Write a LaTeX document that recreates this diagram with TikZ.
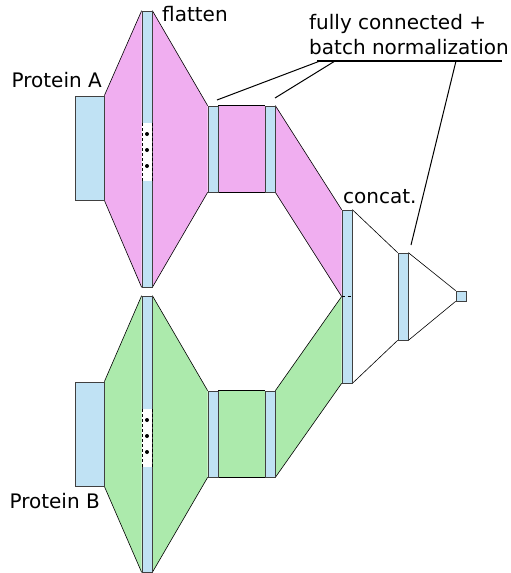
\documentclass[tikz,border=0pt]{standalone}
\usepackage{fontspec}
\setmainfont{DejaVu Sans}
\definecolor{pinkf}{RGB}{240,174,240}
\definecolor{greenf}{RGB}{172,234,172}
\definecolor{bluef}{RGB}{192,226,244}
\tikzset{
  bar/.style={draw=black!75, fill=bluef, line width=0.7pt, inner sep=0pt, minimum width=10pt},
  inbox/.style={draw=black!75, fill=bluef, line width=0.7pt, inner sep=0pt, minimum width=29pt, minimum height=104pt},
  edge/.style={draw=black, line width=0.6pt},
  lbl/.style={inner sep=0pt, font=\fontsize{20}{24}\selectfont},
  leader/.style={draw=black, line width=1pt}
}
\begin{document}
\begin{tikzpicture}[x=1pt,y=-1pt]
\useasboundingbox (0,0) rectangle (511,573);
% nodes
\node[inbox] (boxA) at (89.5,148) {};
\node[inbox] (boxB) at (89.5,434) {};
\node[bar, minimum height=276pt] (flatA) at (147,149) {};
\node[bar, minimum height=276pt] (flatB) at (147,434) {};
\node[bar, minimum height=86pt] (fcA1) at (213,149) {};
\node[bar, minimum height=86pt] (fcA2) at (270,149) {};
\node[bar, minimum height=86pt] (fcB1) at (213,434) {};
\node[bar, minimum height=86pt] (fcB2) at (270,434) {};
\node[bar, minimum height=173pt] (cat) at (347,296.5) {};
\node[bar, minimum height=87pt] (dense) at (403,296.5) {};
\node[bar, minimum height=10pt] (out) at (461,296) {};
% fills
\fill[pinkf] (boxA.north east) -- (flatA.north west) -- (flatA.south west) -- (boxA.south east) -- cycle;
\fill[pinkf] (flatA.north east) -- (fcA1.north west) -- (fcA1.south west) -- (flatA.south east) -- cycle;
\fill[pinkf] (fcA1.north east) rectangle (fcA2.south west);
\fill[pinkf] (fcA2.north east) -- (cat.north west) -- (cat.west) -- (fcA2.south east) -- cycle;
\fill[greenf] (boxB.north east) -- (flatB.north west) -- (flatB.south west) -- (boxB.south east) -- cycle;
\fill[greenf] (flatB.north east) -- (fcB1.north west) -- (fcB1.south west) -- (flatB.south east) -- cycle;
\fill[greenf] (fcB1.north east) rectangle (fcB2.south west);
\fill[greenf] (fcB2.north east) -- (cat.west) -- (cat.south west) -- (fcB2.south east) -- cycle;
% edges
\draw[edge] (boxA.north east) -- (flatA.north west);
\draw[edge] (boxA.south east) -- (flatA.south west);
\draw[edge] (flatA.north east) -- (fcA1.north west);
\draw[edge] (flatA.south east) -- (fcA1.south west);
\draw[edge] (fcA1.north east) -- (fcA2.north west);
\draw[edge] (fcA1.south east) -- (fcA2.south west);
\draw[edge] (fcA2.north east) -- (cat.north west);
\draw[edge] (fcA2.south east) -- (cat.west);
\draw[edge] (boxB.north east) -- (flatB.north west);
\draw[edge] (boxB.south east) -- (flatB.south west);
\draw[edge] (flatB.north east) -- (fcB1.north west);
\draw[edge] (flatB.south east) -- (fcB1.south west);
\draw[edge] (fcB1.north east) -- (fcB2.north west);
\draw[edge] (fcB1.south east) -- (fcB2.south west);
\draw[edge] (fcB2.north east) -- (cat.west);
\draw[edge] (fcB2.south east) -- (cat.south west);
\draw[edge] (cat.north east) -- (dense.north west);
\draw[edge] (cat.south east) -- (dense.south west);
\draw[edge] (dense.north east) -- (out.north west);
\draw[edge] (dense.south east) -- (out.south west);
% redraw bars on top
\node[inbox] at (boxA) {};
\node[inbox] at (boxB) {};
\node[bar, minimum height=276pt] at (flatA) {};
\node[bar, minimum height=276pt] at (flatB) {};
\node[bar, minimum height=86pt] at (fcA1) {};
\node[bar, minimum height=86pt] at (fcA2) {};
\node[bar, minimum height=86pt] at (fcB1) {};
\node[bar, minimum height=86pt] at (fcB2) {};
\node[bar, minimum height=173pt] at (cat) {};
\node[bar, minimum height=87pt] at (dense) {};
\node[bar, minimum height=10pt] at (out) {};
\draw[black, dashed, line width=0.6pt] (cat.west) -- (cat.east);
% gaps with dots
\foreach \n/\yt in {A/123, B/409} {
  \fill[white] (142.3,\yt) rectangle (151.7,\yt+58);
  \draw[black, dash pattern=on 3pt off 2pt, line width=0.8pt] (142,\yt) -- (142,\yt+58);
  \draw[black, dash pattern=on 3pt off 2pt, line width=0.8pt] (152,\yt) -- (152,\yt+58);
  \foreach \d in {11,27,43} \fill (147,\yt+\d) circle (2pt);
}
% labels
\node[lbl, anchor=west] (tflat) at (162,14) {flatten};
\node[lbl, anchor=east] (tA) at (102,80) {Protein A};
\node[lbl, anchor=east] (tB) at (100,501) {Protein B};
\node[lbl, anchor=west] (tcat) at (343,197) {concat.};
\node[lbl, anchor=west] (tfc1) at (309,24) {fully connected +};
\node[lbl, anchor=west] (tfc2) at (309,47) {batch normalization};
% underline and leaders
\coordinate (u1) at (317,61);
\coordinate (u2) at (502,61);
\draw[black, line width=2.2pt] (u1) -- (u2);
\coordinate (s1) at (320,61);
\coordinate (s2) at (335,61);
\coordinate (s3) at (456,61);
\coordinate (e1) at (217,100);
\coordinate (e2) at (275,98);
\coordinate (e3) at (411,245);
\draw[leader] (s1) -- (e1);
\draw[leader] (s2) -- (e2);
\draw[leader] (s3) -- (e3);
\end{tikzpicture}
\end{document}
